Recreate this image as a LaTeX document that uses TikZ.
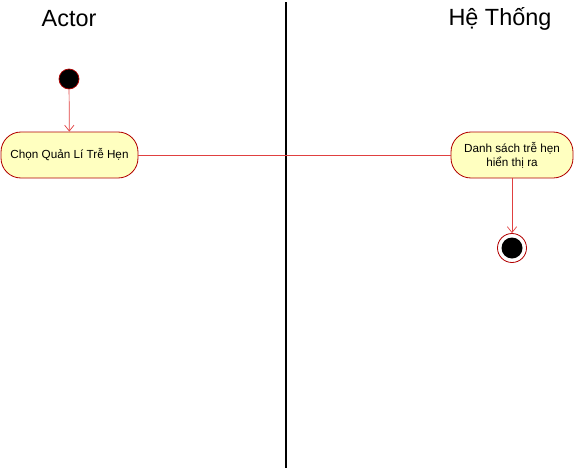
\documentclass[tikz,border=0pt]{standalone}
\usepackage{fontspec}
\setmainfont{Liberation Sans}
\usepackage{tikz}
\usetikzlibrary{arrows.meta}
\definecolor{actborder}{HTML}{B20000}
\definecolor{actfill}{HTML}{FFFFC0}
\definecolor{flowred}{HTML}{E04040}
\tikzset{%
  action/.style={draw=actborder,fill=actfill,rounded corners=17pt,line width=0.7pt,
    minimum width=137*0.03cm,minimum height=46*0.03cm,inner sep=0,align=center,
    font=\fontsize{10pt}{12pt}\selectfont},
  flow/.style={draw=flowred,line width=0.6pt},
  lanetitle/.style={inner sep=0,font=\fontsize{20pt}{24pt}\selectfont}
}

\begin{document}
\begin{tikzpicture}[x=0.03cm,y=-0.03cm]
\useasboundingbox (0,0) rectangle (585,470);

% swimlane divider and titles
\draw[line width=1.5pt] (286,2) -- (286,468);
\node[lanetitle] (actor) at (69,19) {Actor};
\node[lanetitle] (system) at (500,19) {Hệ Thống};

% start
\node[circle,fill=black,draw=actborder,line width=0.6pt,minimum size=20*0.03cm,inner sep=0] (start) at (69,79) {};

\node[action] (choose) at (69.5,155) {Chọn Quản Lí Trễ Hẹn};
\node[action,minimum width=122*0.03cm] (show) at (512,155) {Danh sách trễ hẹn\\ hiển thị ra};

% end
\node[circle,draw=actborder,fill=white,line width=0.7pt,minimum size=29*0.03cm,inner sep=0] (stop) at (512,248) {};
\node[circle,fill=black,minimum size=21*0.03cm,inner sep=0] (stopdot) at (512,248) {};

\draw[flow,-{Straight Barb[length=5pt,width=8pt]}] (start) -- (choose);
\draw[flow] (choose) -- (show);
\draw[flow,-{Straight Barb[length=5pt,width=8pt]}] (show) -- (stop);

\end{tikzpicture}
\end{document}
